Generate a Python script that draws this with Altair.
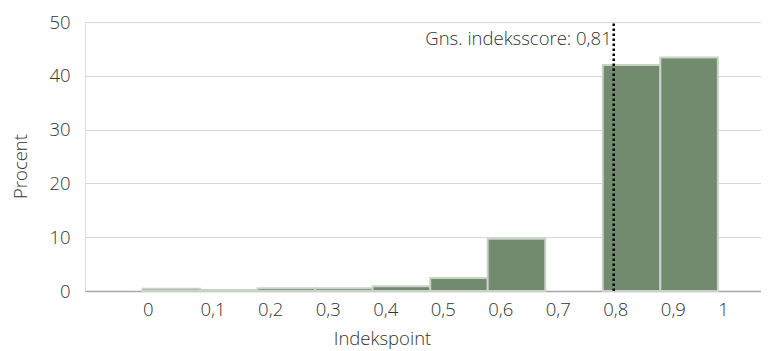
import altair as alt
import pandas as pd

# Histogram bins (lower / upper edges) and share of respondents in percent
bin_start = [0.0, 0.1, 0.2, 0.3, 0.4, 0.5, 0.6, 0.7, 0.8, 0.9]
bin_end = [0.1, 0.2, 0.3, 0.4, 0.5, 0.6, 0.7, 0.8, 0.9, 1.0]
percent = [0.4, 0.2, 0.5, 0.5, 0.9, 2.4, 9.7, 0.0, 42.0, 43.4]

tick_values = [0.0, 0.1, 0.2, 0.3, 0.4, 0.5, 0.6, 0.7, 0.8, 0.9, 1.0]
y_ticks = [0, 10, 20, 30, 40, 50]

mean_position = 0.819
mean_label = "Gns. indeksscore: 0,81"
label_level = 45.7

FONT = "Open Sans"
WEIGHT = 300
SIZE = 18.5
TEXT_COLOR = "#333333"

bars_df = pd.DataFrame({"start": bin_start, "end": bin_end, "pct": percent,
                        "base": [0] * len(percent)})
mean_df = pd.DataFrame({"x": [mean_position], "y0": [0], "y1": [50],
                        "ylab": [label_level], "label": [mean_label]})

x_scale = alt.Scale(domain=[-0.1, 1.075], nice=False, zero=False)
y_scale = alt.Scale(domain=[0, 50], nice=False)

bars = alt.Chart(bars_df).transform_filter("datum.pct > 0").mark_bar(
    color="#728b6f", stroke="#c8d2c6", strokeWidth=2
).encode(
    x=alt.X("start:Q", scale=x_scale,
            axis=alt.Axis(values=tick_values, title="Indekspoint",
                          labelExpr="replace(format(datum.value, '.1~f'), '.', ',')",
                          labelAlign="left", labelPadding=9, ticks=False,
                          grid=False, domain=True, domainColor="#a8a8a8",
                          domainWidth=1.5, labelFont=FONT, labelFontSize=SIZE,
                          labelFontWeight=WEIGHT,
                          labelColor=TEXT_COLOR, titleFont=FONT,
                          titleFontSize=SIZE, titleFontWeight=WEIGHT,
                          titleColor=TEXT_COLOR, titleX=297, titleY=53,
                          titleBaseline="alphabetic", titleAnchor="middle")),
    x2="end:Q",
    y=alt.Y("pct:Q", scale=y_scale,
            axis=alt.Axis(values=y_ticks, title="Procent", ticks=False,
                          domain=False, grid=True, gridColor="#d6d6d6",
                          gridWidth=1.2, labelPadding=15, labelFont=FONT,
                          labelFontSize=SIZE, labelFontWeight=WEIGHT,
                          labelColor=TEXT_COLOR,
                          titleFont=FONT, titleFontSize=SIZE,
                          titleFontWeight=WEIGHT, titleColor=TEXT_COLOR,
                          titleX=-65, titleY=144, titleAngle=270,
                          titleAlign="center", titleBaseline="middle")),
    y2="base:Q",
)

rule = alt.Chart(mean_df).mark_rule(
    color="#000000", strokeWidth=2.5, strokeDash=[2.5, 2.5]
).encode(
    x=alt.X("x:Q", scale=x_scale),
    y=alt.Y("y0:Q", scale=y_scale),
    y2="y1:Q",
)

label = alt.Chart(mean_df).mark_text(
    align="right", baseline="alphabetic", dx=-2, font=FONT, fontSize=SIZE,
    fontWeight=WEIGHT, color=TEXT_COLOR
).encode(
    x=alt.X("x:Q", scale=x_scale),
    y=alt.Y("ylab:Q", scale=y_scale),
    text="label:N",
)

chart = alt.layer(bars, rule, label).properties(
    width=676, height=269,
    autosize=alt.AutoSizeParams(type="none"),
    padding={"left": 77, "top": 14, "right": 0, "bottom": 60},
).configure_view(stroke=None).configure(background="#ffffff")

chart.save("out.html", embed_options={"renderer": "svg", "actions": False})
